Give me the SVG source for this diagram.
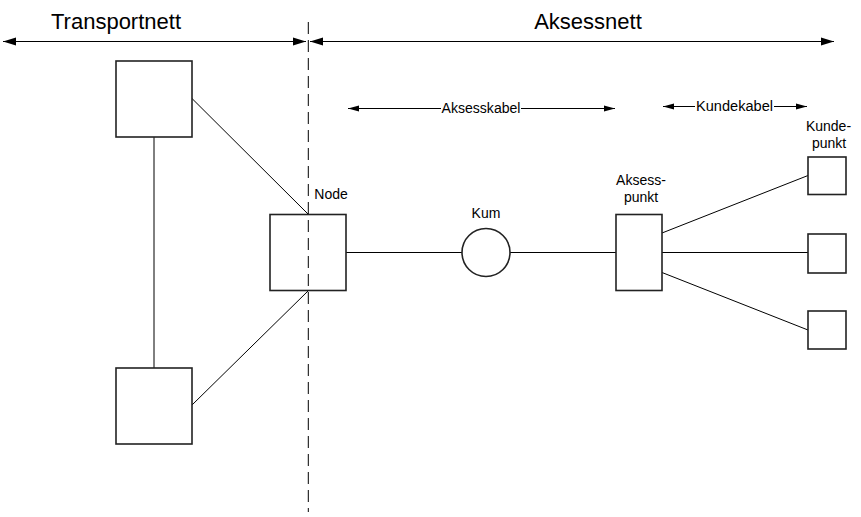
<svg xmlns="http://www.w3.org/2000/svg" width="861" height="517" viewBox="0 0 861 517">
<style>
.box{fill:#fff;stroke:#222;stroke-width:1.6}
.ln{stroke:#000;stroke-width:1;fill:none}
.t{font-family:"Liberation Sans",Arial,sans-serif;fill:#000}
.big{font-size:22px;text-anchor:middle}
.sm{font-size:14px;text-anchor:middle}
</style>
<defs>
<marker id="ae" markerUnits="userSpaceOnUse" markerWidth="14" markerHeight="10" refX="13" refY="5" orient="auto">
<path d="M0,1 L13,5 L0,9 Z" fill="#000"/>
</marker>
<marker id="as" markerUnits="userSpaceOnUse" markerWidth="14" markerHeight="10" refX="1" refY="5" orient="auto">
<path d="M14,1 L1,5 L14,9 Z" fill="#000"/>
</marker>
<marker id="be" markerUnits="userSpaceOnUse" markerWidth="12" markerHeight="8" refX="11" refY="4" orient="auto">
<path d="M0,1 L11,4 L0,7 Z" fill="#000"/>
</marker>
<marker id="bs" markerUnits="userSpaceOnUse" markerWidth="12" markerHeight="8" refX="1" refY="4" orient="auto">
<path d="M12,1 L1,4 L12,7 Z" fill="#000"/>
</marker>
</defs>
<rect width="861" height="517" fill="#fff"/>
<g id="connectors">
<line class="ln" x1="154" y1="137" x2="154" y2="368"/>
<line class="ln" x1="192" y1="98.5" x2="308" y2="214"/>
<line class="ln" x1="192" y1="405" x2="308" y2="291"/>
<line class="ln" x1="346" y1="252.5" x2="462" y2="252.5"/>
<line class="ln" x1="510" y1="252.5" x2="616" y2="252.5"/>
<line class="ln" x1="662" y1="233" x2="808" y2="175.5"/>
<line class="ln" x1="662" y1="252.5" x2="808" y2="252.5"/>
<line class="ln" x1="662" y1="272.5" x2="808" y2="330"/>
</g>
<g id="dimensions">
<line class="ln" x1="3" y1="41.5" x2="306" y2="41.5" stroke-width="1.5" marker-start="url(#as)" marker-end="url(#ae)"/>
<line class="ln" x1="310" y1="41.5" x2="834" y2="41.5" stroke-width="1.5" marker-start="url(#as)" marker-end="url(#ae)"/>
<line class="ln" x1="348" y1="108.5" x2="441" y2="108.5" stroke-width="1.3" marker-start="url(#bs)"/>
<line class="ln" x1="521" y1="108.5" x2="615" y2="108.5" stroke-width="1.3" marker-end="url(#be)"/>
<line class="ln" x1="663" y1="106.5" x2="695" y2="106.5" stroke-width="1.3" marker-start="url(#bs)"/>
<line class="ln" x1="774" y1="106.5" x2="807" y2="106.5" stroke-width="1.3" marker-end="url(#be)"/>
<text class="t big" x="116" y="29">Transportnett</text>
<text class="t big" x="588" y="29">Aksessnett</text>
<text class="t sm" x="481" y="113" textLength="79" lengthAdjust="spacingAndGlyphs">Aksesskabel</text>
<text class="t sm" x="734.5" y="111" textLength="77" lengthAdjust="spacingAndGlyphs">Kundekabel</text>
</g>
<g id="transport-top"><rect class="box" x="116" y="61" width="76" height="76"/></g>
<g id="transport-bottom"><rect class="box" x="116" y="368" width="76" height="76"/></g>
<g id="node">
<rect class="box" x="270" y="214.5" width="76" height="76"/>
<text class="t sm" x="331" y="199">Node</text>
</g>
<g id="kum">
<circle class="box" cx="486" cy="252.5" r="24"/>
<text class="t sm" x="486" y="218">Kum</text>
</g>
<g id="aksesspunkt">
<rect class="box" x="616" y="214.5" width="46" height="76"/>
<text class="t sm" x="641" y="185">Aksess-</text>
<text class="t sm" x="641" y="202">punkt</text>
</g>
<g id="kundepunkt1">
<rect class="box" x="808" y="157" width="38" height="37.5"/>
<text class="t sm" x="828.5" y="131">Kunde-</text>
<text class="t sm" x="829" y="148">punkt</text>
</g>
<g id="kundepunkt2"><rect class="box" x="808" y="234" width="38" height="39"/></g>
<g id="kundepunkt3"><rect class="box" x="808" y="311" width="38" height="38"/></g>
<g id="divider">
<line class="ln" x1="308.3" y1="22" x2="308.3" y2="512" stroke="#222" stroke-width="1.3" stroke-dasharray="12,6"/>
</g>
</svg>
